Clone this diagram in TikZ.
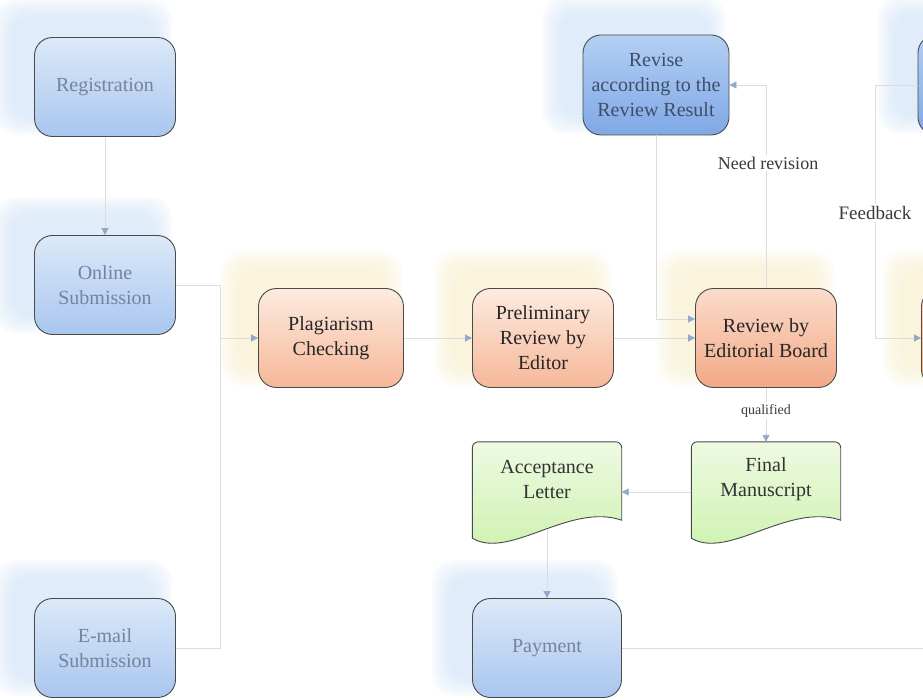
\documentclass[tikz,border=0pt]{standalone}
\usepackage{fontspec}
\setmainfont{Liberation Serif}
\usetikzlibrary{arrows.meta,calc,backgrounds}
\definecolor{bordc}{HTML}{4A4A4A}
\definecolor{blueT}{HTML}{DCE9F8}
\definecolor{blueB}{HTML}{A9C6EF}
\definecolor{blueDT}{HTML}{B3CFF3}
\definecolor{blueDB}{HTML}{7FA8E6}
\definecolor{blueTxt}{HTML}{74839F}
\definecolor{blueDTxt}{HTML}{3E4E68}
\definecolor{oraT}{HTML}{FDEBE0}
\definecolor{oraB}{HTML}{F6B798}
\definecolor{oraDT}{HTML}{FBDCCB}
\definecolor{oraDB}{HTML}{F2A987}
\definecolor{greT}{HTML}{EEFAE2}
\definecolor{greB}{HTML}{CBF1AB}
\definecolor{glowB}{HTML}{D6E7FA}
\definecolor{glowY}{HTML}{FAF2D2}
\definecolor{linec}{HTML}{DCDCDC}
\definecolor{arrc}{HTML}{93A9C8}
\definecolor{labc}{HTML}{3A3A3A}
\newcommand{\glowbox}[4]{%
  \foreach \s in {18,15,12,9,6,3,0}{%
    \fill[#2, opacity=0.16, rounded corners=22pt]
      ($(#1.north west)+(#3-\s,#4-\s)$) rectangle ($(#1.south east)+(#3+\s,#4+\s)$);
  }}
\newcommand{\docshape}[1]{%
  \path[top color=greT, bottom color=greB, draw=bordc, line width=0.9pt, rounded corners=6pt]
    ($(#1.south west)+(0,22)$) -- (#1.north west) -- (#1.north east) [sharp corners]
    -- ($(#1.south east)+(0,4)$)
    .. controls ($(#1.south east)+(-52,-14)$) and ($(#1.south west)+(37,44)$) ..
    ($(#1.south west)+(0,22)$) -- cycle;}
\begin{document}
\begin{tikzpicture}[x=1pt,y=-1pt,
  box/.style={draw=bordc, line width=0.9pt, rounded corners=18pt,
    minimum width=141pt, minimum height=99pt, align=center,
    font=\fontsize{20}{25}\selectfont, inner sep=2pt},
  bluebox/.style={box, top color=blueT, bottom color=blueB, text=blueTxt},
  dbluebox/.style={box, top color=blueDT, bottom color=blueDB, text=blueDTxt},
  orabox/.style={box, top color=oraT, bottom color=oraB, text=black!85},
  doraBox/.style={box, top color=oraDT, bottom color=oraDB, text=black!85},
  docnode/.style={minimum width=149pt, minimum height=74pt, align=center,
    font=\fontsize{20}{25}\selectfont, inner sep=2pt, text=black!80},
  line/.style={draw=linec, line width=0.9pt},
  conn/.style={line, -{Triangle[length=7pt,width=7pt,color=arrc]}},
  lab/.style={fill=white, text=labc, inner sep=2pt}]
\useasboundingbox (0,0) rectangle (923,700);
\clip (0,0) rectangle (923,700);
\begin{scope}[on background layer]
  \fill[white] (0,0) rectangle (923,700);
\end{scope}

% nodes
\node[bluebox] (reg) at (105,87) {Registration};
\node[bluebox] (online) at (105,285) {Online\\Submission};
\node[bluebox] (email) at (105,648) {E-mail\\Submission};
\node[orabox, minimum width=145pt] (plag) at (331,338) {Plagiarism\\Checking};
\node[orabox] (prelim) at (543,338) {Preliminary\\Review by\\Editor};
\node[doraBox] (review) at (766,338) {Review by\\Editorial Board};
\node[dbluebox, minimum width=146pt, minimum height=100pt] (revise) at (656,85) {Revise\\according to the\\Review Result};
\node[dbluebox, minimum width=146pt, minimum height=100pt] (trnode) at (991,85) {};
\node[doraBox] (rmnode) at (992,338) {};
\node[docnode] (final) at (766,479) {Final\\Manuscript};
\node[docnode] (accept) at (547,479) {Acceptance\\Letter};
\node[bluebox, minimum width=149pt] (pay) at (547,648) {Payment};

\begin{scope}[on background layer]
  \glowbox{reg}{glowB}{-22}{-20}
  \glowbox{online}{glowB}{-22}{-20}
  \glowbox{email}{glowB}{-22}{-20}
  \glowbox{revise}{glowB}{-22}{-20}
  \glowbox{trnode}{glowB}{-22}{-20}
  \glowbox{pay}{glowB}{-22}{-20}
  \glowbox{plag}{glowY}{-20}{-20}
  \glowbox{prelim}{glowY}{-20}{-20}
  \glowbox{review}{glowY}{-20}{-20}
  \glowbox{rmnode}{glowY}{-20}{-20}
  \docshape{accept}
  \docshape{final}
\end{scope}

% coordinates
\coordinate (jx) at (220,338);
\coordinate (fbx) at (875,85);
\coordinate (payend) at (923,648);

% connectors
\draw[conn] (reg) -- (online);
\draw[line] (online.east) -| (jx);
\draw[line] (email.east) -| (jx);
\draw[conn] (jx) -- (plag.west);
\draw[conn] (plag) -- (prelim);
\draw[conn] (prelim) -- (review);
\draw[conn] (revise.south) |- ($(review.west)+(0,-19)$);
\draw[conn] (review.north) |- (revise.east);
\node[lab, font=\fontsize{18}{20}\selectfont] (needrev) at (768,163) {Need revision};
\draw[conn] (trnode.west) -- (fbx) |- (rmnode.west);
\node[lab, font=\fontsize{19}{20}\selectfont] (fbl) at (875,213) {Feedback};
\draw[conn] (review.south) -- (final.north);
\node[lab, font=\fontsize{14}{16}\selectfont] (qual) at (766,411) {qualified};
\draw[conn] ($(final.west)+(0,13)$) -- ($(accept.east)+(0,13)$);
\draw[conn] ($(accept.south)+(0,14)$) -- (pay.north);
\draw[line] (pay.east) -- (payend);
\end{tikzpicture}
\end{document}
